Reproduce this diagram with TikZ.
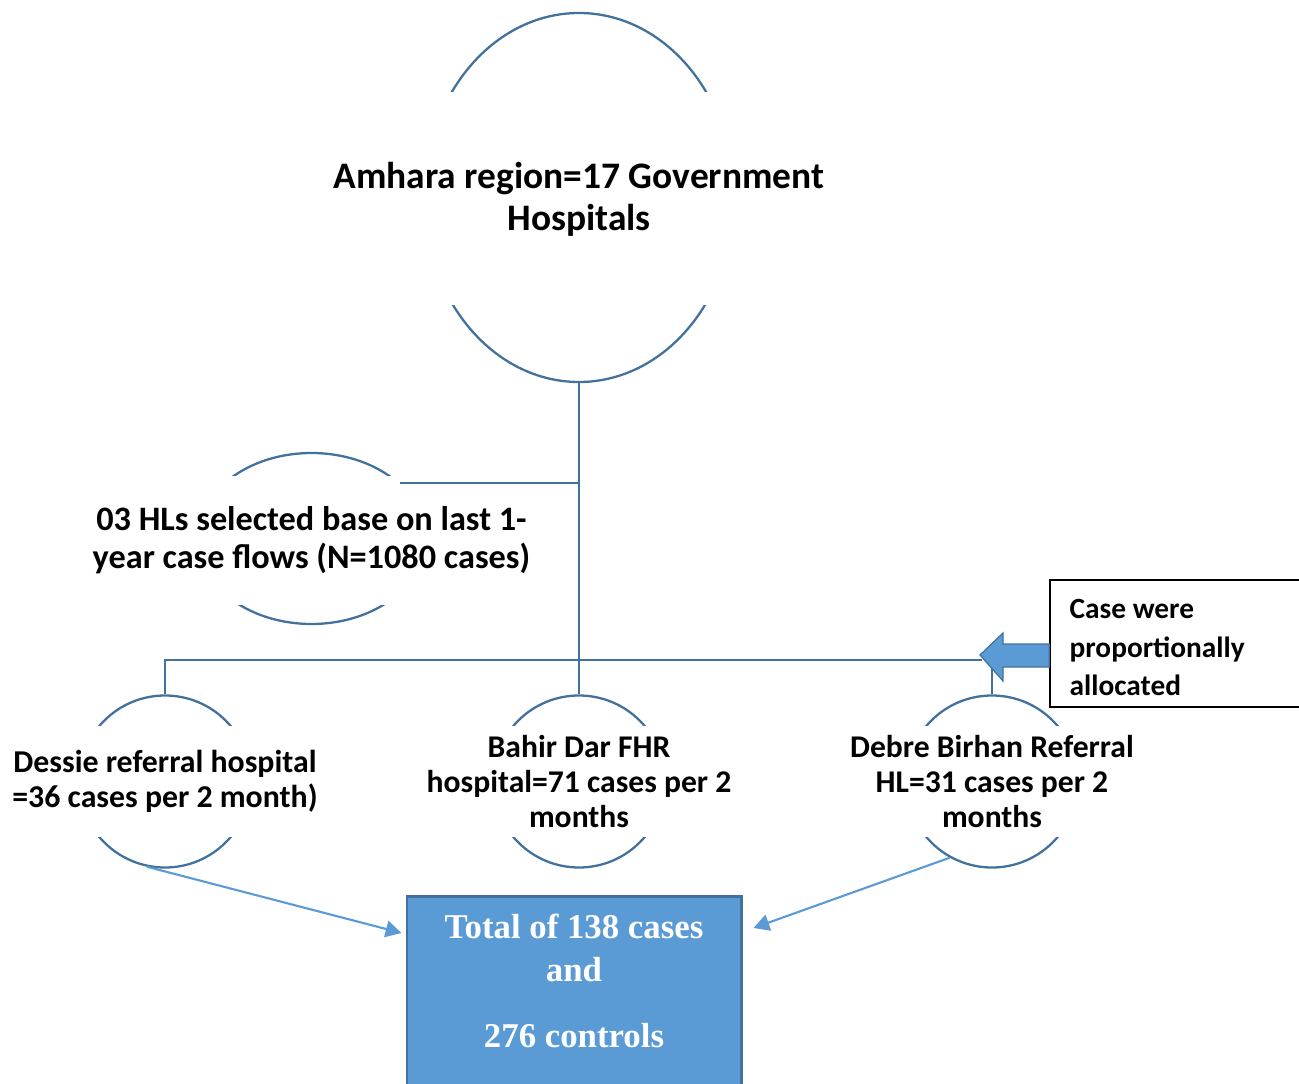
\documentclass[tikz,border=0pt]{standalone}
\usepackage{fontspec}
\setmainfont{Carlito}
\newfontfamily\serifbold{Liberation Serif}
\usepackage{tikz}
\usetikzlibrary{shapes.geometric,arrows.meta}
\definecolor{ringline}{HTML}{41719C}
\definecolor{boxfill}{HTML}{5B9BD5}
\newlength\pxl
\setlength\pxl{0.02cm}

\begin{document}
\begin{tikzpicture}[
  x=0.02cm, y=-0.02cm,
  ring/.style={draw=ringline, line width=1.3pt, ellipse, inner sep=0pt},
  band/.style={fill=white, align=center, inner xsep=4pt, inner ysep=0pt},
  link/.style={draw=ringline, line width=1.3pt},
  feed/.style={draw=boxfill, line width=1.2pt, -{Triangle[length=9pt,width=9.5pt]}},
  totalbox/.style={draw=ringline, line width=1.7pt, fill=boxfill},
  notebox/.style={draw=black, line width=0.8pt, fill=white, minimum width=260\pxl, minimum height=127\pxl}
]
  \useasboundingbox (0,0) rectangle (1299,1084);
  \clip (0,0) rectangle (1299,1084);

  % Top ellipse
  \node[ring, minimum width=310\pxl, minimum height=369\pxl] (top) at (579,197.5) {};
  \node[band, minimum height=213\pxl, minimum width=330\pxl,
        font=\bfseries\fontsize{21.3pt}{23.8pt}\selectfont] (toptxt) at ([yshift=-1.5\pxl]top.center)
        {Amhara region=17 Government\\Hospitals};

  % Selected HLs
  \node[ring, minimum width=228\pxl, minimum height=171\pxl] (mid) at (311.5,538.5) {};
  \node[band, minimum height=128\pxl, minimum width=240\pxl,
        font=\bfseries\fontsize{19.5pt}{21.5pt}\selectfont] (midtxt) at ([yshift=-2\pxl]mid.center)
        {03 HLs selected base on last 1-\\year case flows (N=1080 cases)};

  % Hospitals
  \node[ring, minimum width=172\pxl, minimum height=172\pxl] (dessie) at (165,781.5) {};
  \node[ring, minimum width=172\pxl, minimum height=172\pxl] (bahir) at (579,781.5) {};
  \node[ring, minimum width=172\pxl, minimum height=172\pxl] (debre) at (992,781.5) {};
  \node[band, minimum height=111\pxl, minimum width=180\pxl,
        font=\bfseries\fontsize{18.1pt}{20.3pt}\selectfont] (dessietxt) at (dessie.center)
        {Dessie referral hospital\\=36 cases per 2 month)};
  \node[band, minimum height=111\pxl, minimum width=180\pxl,
        font=\bfseries\fontsize{18pt}{19.8pt}\selectfont] (bahirtxt) at (bahir.center)
        {Bahir Dar FHR\\hospital=71 cases per 2\\months};
  \node[band, minimum height=111\pxl, minimum width=180\pxl,
        font=\bfseries\fontsize{18pt}{19.8pt}\selectfont] (debretxt) at (debre.center)
        {Debre Birhan Referral\\HL=31 cases per 2\\months};

  % Note box
  \node[notebox] (note) at (1180,643.5) {};
  \node[anchor=west, align=left, inner sep=0pt, font=\bfseries\fontsize{16.7pt}{21.8pt}\selectfont]
        (notetxt) at ([xshift=20\pxl, yshift=-4\pxl]note.west) {Case were\\proportionally\\allocated};

  % Total
  \node[totalbox, minimum width=334\pxl, minimum height=230\pxl, anchor=north] (total) at (574,895) {};
  \node[align=center, text=white, font=\serifbold\bfseries\fontsize{19.8pt}{24.4pt}\selectfont]
        (totaltxt) at (574,981) {Total of 138 cases\\and\\[13pt]276 controls};

  % Tree lines
  \coordinate (bus) at (982,660);
  \draw[link] (top.south) -- (bahir.north);
  \draw[link] (mid.32) -- (mid.32 -| top.south);
  \draw[link] (dessie.north) |- (bus);
  \draw[link] (debre.north) -- (debre.north |- bus);

  % Allocation arrow
  \draw[ringline, line width=0.7pt, fill=boxfill]
    (980,655) -- (1003,633) -- (1003,644) -- (note.west |- 0,644)
    -- (note.west |- 0,667) -- (1003,667) -- (1003,681) -- cycle;

  % Feeds into total
  \coordinate (inL) at ([xshift=-4\pxl, yshift=-38\pxl]total.north west);
  \coordinate (inR) at ([xshift=11\pxl, yshift=-33\pxl]total.north east);
  \draw[feed] (dessie.-102) -- (inL);
  \draw[feed] (debre.-119) -- (inR);
\end{tikzpicture}
\end{document}
